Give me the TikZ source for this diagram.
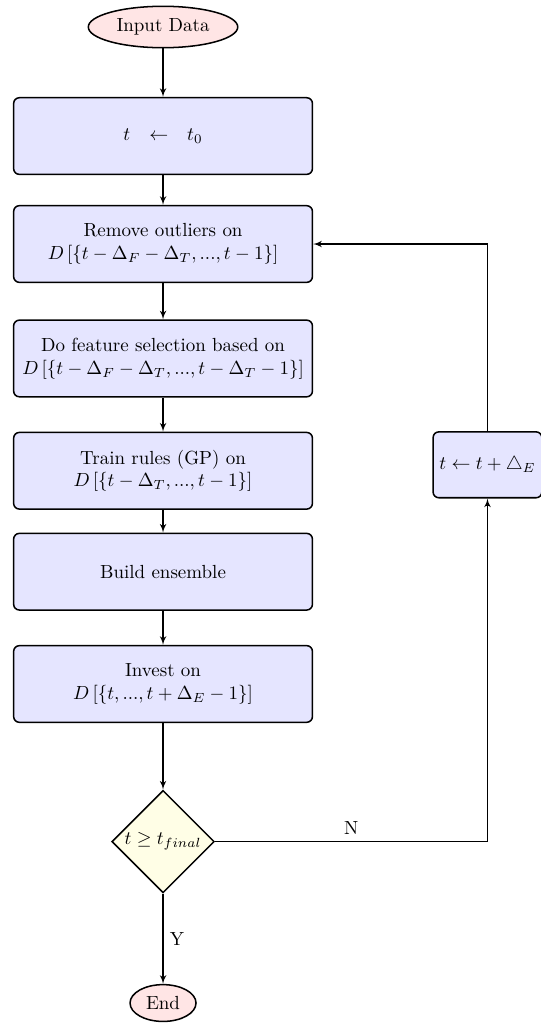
\documentclass[tikz,border=0pt]{standalone}
\usepackage{amsmath}
\usepackage{amssymb}
\usetikzlibrary{shapes.geometric,arrows}

\begin{document}
\begin{tikzpicture}[
  boite/.style={rectangle, draw, thick, fill=blue!10, rounded corners=3pt},
  bloc/.style={boite, text width=5.3cm, align=center, minimum height=1.42cm},
  extremite/.style={ellipse, draw, thick, fill=red!10},
  decision/.style={diamond, draw, thick, fill=yellow!10, aspect=1, inner sep=0pt, minimum size=1.9cm},
  fleche/.style={-latex', semithick}]
  % Cadre de la figure
  \useasboundingbox (0,0) rectangle (10.02,-18.95);
  \def\xm{3.02} % abscisse de la colonne principale
  \def\xd{9.03} % abscisse de la boucle

  % Les blocs de la colonne principale
  \node[extremite] (entree) at (\xm,-0.5) {Input Data};
  \node[bloc] (init) at (\xm,-2.52) {$t \quad {\leftarrow} \quad t_0$};
  \node[bloc] (nettoie) at (\xm,-4.52) {Remove outliers on\\ $D\left[\{t-\Delta_F-\Delta_T,...,t-1\}\right]$};
  \node[bloc] (selection) at (\xm,-6.64) {Do feature selection based on\\ $D\left[\{t-\Delta_F-\Delta_T,...,t-\Delta_T-1\}\right]$};
  \node[bloc] (apprend) at (\xm,-8.72) {Train rules (GP) on\\ $D\left[\{t-\Delta_T,...,t-1\}\right]$};
  \node[bloc] (ensemble) at (\xm,-10.59) {Build ensemble};
  \node[bloc] (investit) at (\xm,-12.67) {Invest on\\ $D\left[\{t,...,t+\Delta_E-1\}\right]$};
  \node[decision] (test) at (\xm,-15.59) {$t \geq t_{final}$};
  \node[extremite] (fin) at (\xm,-18.58) {End};

  % Le bloc de mise a jour
  \node[boite, minimum height=1.22cm] (maj) at (\xd,-8.61) {$t \leftarrow t + \triangle_E$};

  % Les fleches
  \draw[fleche] (entree) -- (init);
  \draw[fleche] (init) -- (nettoie);
  \draw[fleche] (nettoie) -- (selection);
  \draw[fleche] (selection) -- (apprend);
  \draw[fleche] (apprend) -- (ensemble);
  \draw[fleche] (ensemble) -- (investit);
  \draw[fleche] (investit) -- (test);
  \draw[fleche] (test) -- node[right] {Y} (fin);
  \draw[fleche] (test) -| node[above, pos=0.25] {N} (maj);
  \draw[fleche] (maj) |- (nettoie);
\end{tikzpicture}
\end{document}
